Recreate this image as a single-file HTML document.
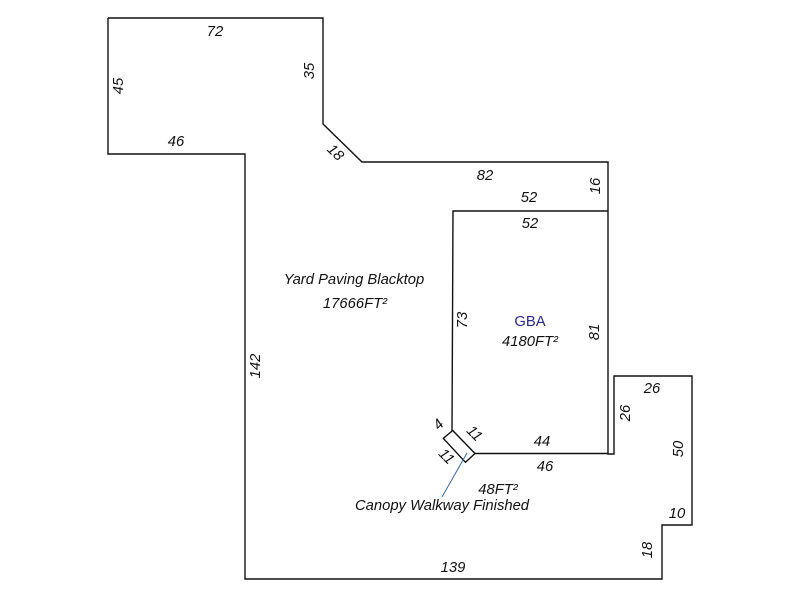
<!DOCTYPE html>
<html>
<head>
<meta charset="utf-8">
<style>
html,body{margin:0;padding:0;background:#fff;}
svg{display:block;}
text{font-family:"Liberation Sans",Arial,sans-serif;font-size:14.8px;font-style:italic;fill:#111;}
</style>
</head>
<body>
<svg width="800" height="600" viewBox="0 0 800 600" xmlns="http://www.w3.org/2000/svg">
  <rect x="0" y="0" width="800" height="600" fill="#fff"/>
  <g fill="none" stroke="#111" stroke-width="1.4" stroke-linejoin="miter">
    <polyline points="108,18 323,18 323,124 362,162 608,162 608,454 614,454 614,376 692,376 692,525 662,525 662,579 245,579 245,154 108,154 108,18"/>
    <polyline points="452,431 453,211 608,211"/>
    <line x1="475" y1="453.5" x2="608" y2="453.5"/>
    <polygon points="452.7,430.5 443.3,438.3 465.5,462.3 475,453.5"/>
  </g>
  <line x1="467" y1="453" x2="442" y2="497" stroke="#3a6aa0" stroke-width="1"/>

  <g text-anchor="middle" dominant-baseline="central">
    <text x="215" y="32">72</text>
    <text transform="translate(119,86) rotate(-90)">45</text>
    <text transform="translate(310,71) rotate(-90)">35</text>
    <text x="176" y="142">46</text>
    <text transform="translate(335,153) rotate(44)">18</text>
    <text x="485" y="176">82</text>
    <text transform="translate(596,186) rotate(-90)">16</text>
    <text x="529" y="198">52</text>
    <text x="530" y="224">52</text>
    <text x="354" y="280">Yard Paving Blacktop</text>
    <text x="355" y="304">17666FT²</text>
    <text x="530" y="322" style="font-style:normal;fill:#2a2a80">GBA</text>
    <text x="530" y="342">4180FT²</text>
    <text transform="translate(463,320) rotate(-90)">73</text>
    <text transform="translate(595,332) rotate(-90)">81</text>
    <text transform="translate(256,366) rotate(-90)">142</text>
    <text x="652" y="389">26</text>
    <text transform="translate(626,413) rotate(-90)">26</text>
    <text transform="translate(679,449) rotate(-90)">50</text>
    <text x="542" y="442">44</text>
    <text x="545" y="467">46</text>
    <text transform="translate(439,425) rotate(-45)">4</text>
    <text transform="translate(474,434) rotate(45)">11</text>
    <text transform="translate(446,457) rotate(45)">11</text>
    <text x="498" y="490">48FT²</text>
    <text x="442" y="506">Canopy Walkway Finished</text>
    <text x="677" y="514">10</text>
    <text transform="translate(648,550) rotate(-90)">18</text>
    <text x="453" y="568">139</text>
  </g>
</svg>
</body>
</html>
